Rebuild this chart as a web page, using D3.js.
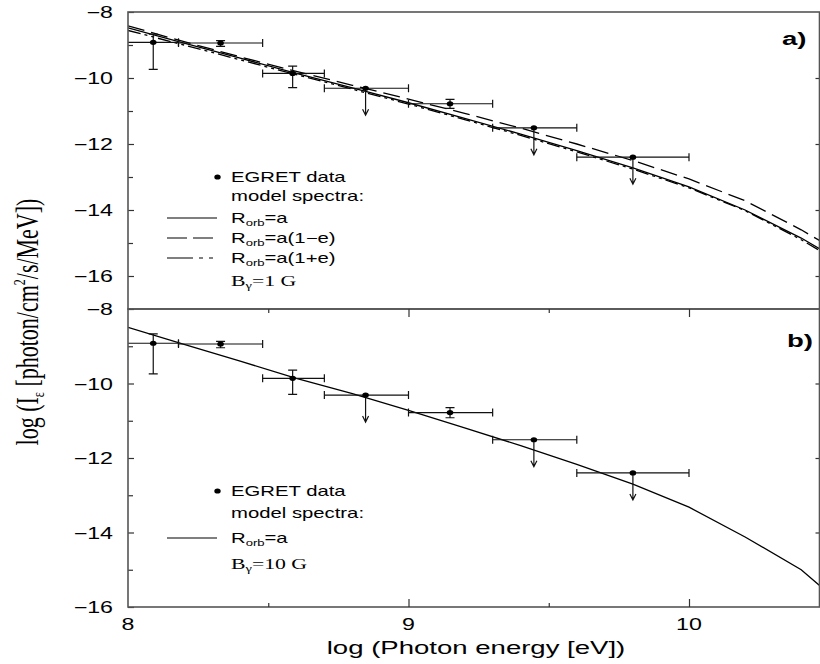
<!DOCTYPE html>
<html>
<head>
<meta charset="utf-8">
<script src="https://cdn.jsdelivr.net/npm/d3@7"></script>
<style>
  body { margin: 0; background: #fff; }
</style>
</head>
<body>
<div id="chart"></div>
<script>
// model spectra (log E [eV] -> log flux)
const energyGrid = [8.0, 8.2, 8.4, 8.6, 8.8, 9.0, 9.2, 9.4, 9.6, 9.8, 10.0, 10.2, 10.4, 10.5];
const solidA = [-8.48, -8.94, -9.4, -9.86, -10.3, -10.75, -11.22, -11.7, -12.2, -12.72, -13.3, -14.0, -14.85, -15.35];
const longDashA = [-8.42, -8.9, -9.36, -9.8, -10.22, -10.64, -11.07, -11.52, -12.0, -12.5, -13.06, -13.72, -14.6, -15.1];
const dashDotA = [-8.56, -9.0, -9.45, -9.9, -10.34, -10.79, -11.26, -11.74, -12.24, -12.76, -13.33, -14.02, -14.9, -15.4];
const solidB = [-8.49, -8.95, -9.4, -9.86, -10.27, -10.72, -11.19, -11.67, -12.17, -12.7, -13.32, -14.12, -15.0, -15.65];

// EGRET points
const egretE = [8.09, 8.33, 8.587, 8.847, 9.148, 9.447, 9.8];
const egretLo = [7.9, 8.18, 8.48, 8.7, 9.0, 9.3, 9.6];
const egretHi = [8.18, 8.48, 8.7, 9.0, 9.3, 9.6, 10.0];
const egretFlux = [-8.92, -8.94, -9.86, -10.31, -10.78, -11.51, -12.4];
const fluxUp = [-8.67, -8.87, -9.64, null, -10.65, null, null];
const fluxDown = [-9.74, -9.04, -10.29, null, -10.92, null, null];
const upperLimit = [false, false, false, true, false, true, true];

const xMajor = [8, 9, 10];
const xMinor = [8.5, 9.5];
const yMajor = [-8, -10, -12, -14, -16];
const yMinorA = [-9, -11, -13, -15];
const yMinorB = [-9, -11, -13, -15];

const width = 820;
const height = 664;
const SX = 1.45; // the original figure is stretched sideways
const left = 128;
const right = 820;
const sans = "'Liberation Sans', Arial, sans-serif";
const serif = "'Liberation Serif', 'Times New Roman', serif";

const x = d3.scaleLinear().domain([8, 8 + (right - left) / 280.5]).range([left, right]);

const panels = [
  {
    id: "a", label: "a)", top: 12, bottom: 309, domain: [-17, -8],
    minor: yMinorA, labelY: 45, labelX: 782,
    curves: [
      { values: solidA, dash: null },
      { values: longDashA, dash: "17,7" },
      { values: dashDotA, dash: "13,4,3,4,3,4" },
    ],
    legend: [
      { kind: "dot", y: 177, text: "EGRET data" },
      { kind: "none", y: 196, text: "model spectra:" },
      { kind: "line", y: 218, dash: null, sub: "" },
      { kind: "line", y: 238, dash: "20,6", sub: "(1\u2212e)" },
      { kind: "line", y: 258, dash: "26,6,4,6,4,6", sub: "(1+e)" },
      { kind: "b", y: 281, field: "1 G" },
    ],
  },
  {
    id: "b", label: "b)", top: 309, bottom: 607, domain: [-16, -8],
    minor: yMinorB, labelY: 347, labelX: 787,
    curves: [{ values: solidB, dash: null }],
    legend: [
      { kind: "dot", y: 491, text: "EGRET data" },
      { kind: "none", y: 513, text: "model spectra:" },
      { kind: "line", y: 538, dash: null, sub: "" },
      { kind: "b", y: 564, field: "10 G" },
    ],
  },
];

const svg = d3.select("#chart").append("svg")
  .attr("width", width).attr("height", height)
  .style("background", "#fff");

const stretched = (sel, px, py, size, family) =>
  sel.append("text")
    .attr("transform", `translate(${px},${py}) scale(${SX},1)`)
    .style("font-family", family)
    .style("font-size", `${size}px`)
    .attr("fill", "#000");

const line = d3.line().x((d) => x(d[0]));

panels.forEach((p) => {
  const y = d3.scaleLinear().domain(p.domain).range([p.bottom, p.top]);
  const g = svg.append("g").attr("class", `panel-${p.id}`);

  g.append("clipPath").attr("id", `clip-${p.id}`)
    .append("rect")
    .attr("x", left).attr("y", p.top)
    .attr("width", right - left).attr("height", p.bottom - p.top);

  const plot = g.append("g").attr("clip-path", `url(#clip-${p.id})`);

  // model curves
  line.y((d) => y(d[1]));
  p.curves.forEach((c) => {
    plot.append("path")
      .datum(energyGrid.map((e, i) => [e, c.values[i]]))
      .attr("d", line)
      .attr("fill", "none")
      .attr("stroke", "#000")
      .attr("stroke-width", 1.3)
      .attr("stroke-dasharray", c.dash);
  });

  // EGRET points
  const pts = egretE.map((e, i) => ({
    e, lo: egretLo[i], hi: egretHi[i], f: egretFlux[i],
    up: fluxUp[i], down: fluxDown[i], ul: upperLimit[i],
  }));
  const pg = plot.selectAll(".pt").data(pts).join("g").attr("class", "pt")
    .attr("stroke", "#111").attr("stroke-width", 1.2).attr("fill", "none");

  pg.append("line")
    .attr("x1", (d) => x(d.lo)).attr("x2", (d) => x(d.hi))
    .attr("y1", (d) => y(d.f)).attr("y2", (d) => y(d.f));
  pg.append("path")
    .attr("d", (d) => `M${x(d.lo)},${y(d.f) - 4}V${y(d.f) + 4}M${x(d.hi)},${y(d.f) - 4}V${y(d.f) + 4}`);

  pg.filter((d) => !d.ul).append("path")
    .attr("d", (d) =>
      `M${x(d.e)},${y(d.up)}V${y(d.down)}` +
      `M${x(d.e) - 4.5},${y(d.up)}h9M${x(d.e) - 4.5},${y(d.down)}h9`);

  pg.filter((d) => d.ul).append("path")
    .attr("d", (d) => {
      const yEnd = y(d.f) + 27;
      return `M${x(d.e)},${y(d.f)}V${yEnd}M${x(d.e) - 3},${yEnd - 6}L${x(d.e)},${yEnd}L${x(d.e) + 3},${yEnd - 6}`;
    });

  pg.append("ellipse")
    .attr("cx", (d) => x(d.e)).attr("cy", (d) => y(d.f))
    .attr("rx", 3.3).attr("ry", 2.6)
    .attr("fill", "#000").attr("stroke", "none");

  // ticks: left (inward), right (inward)
  g.append("g").attr("transform", `translate(${left},0)`)
    .call(d3.axisRight(y).tickValues(yMajor).tickSize(6).tickFormat(""))
    .call((a) => a.select(".domain").remove());
  g.append("g").attr("transform", `translate(${left},0)`)
    .call(d3.axisRight(y).tickValues(p.minor).tickSize(5).tickFormat(""))
    .call((a) => a.select(".domain").remove());
  g.append("g").attr("transform", `translate(${right - 0.5},0)`)
    .call(d3.axisLeft(y).tickValues(yMajor.filter((v) => v > p.domain[0] && v < p.domain[1])).tickSize(4).tickFormat(""))
    .call((a) => a.select(".domain").remove());
  g.selectAll(".tick line").attr("stroke", "#333").attr("stroke-width", 1.2);

  // y tick labels
  yMajor.forEach((v) => {
    stretched(g, 113, y(v) + 6, 16, sans)
      .attr("text-anchor", "end")
      .text(`\u2212${Math.abs(v)}`);
  });

  // frame
  g.append("rect")
    .attr("x", left).attr("y", p.top)
    .attr("width", right - left - 0.5).attr("height", p.bottom - p.top)
    .attr("fill", "none").attr("stroke", "#555").attr("stroke-width", 1.6);

  // panel letter
  stretched(g, p.labelX, p.labelY, 19, sans)
    .style("font-weight", "bold")
    .text(p.label);

  // legend
  const lx0 = 167, lx1 = 217, tx = 231;
  p.legend.forEach((row) => {
    if (row.kind === "dot") {
      g.append("ellipse").attr("cx", 217.5).attr("cy", row.y)
        .attr("rx", 3.2).attr("ry", 2.6).attr("fill", "#000");
    }
    if (row.kind === "dot" || row.kind === "none") {
      stretched(g, tx, row.y + 5, 14, sans).text(row.text);
    }
    if (row.kind === "line") {
      g.append("line").attr("x1", lx0).attr("x2", lx1)
        .attr("y1", row.y).attr("y2", row.y)
        .attr("stroke", "#000").attr("stroke-width", 1.2)
        .attr("stroke-dasharray", row.dash);
      const t = stretched(g, tx, row.y + 5, 14, sans);
      t.append("tspan").text("R");
      t.append("tspan").attr("dy", 3).style("font-size", "9px").text("orb");
      t.append("tspan").attr("dy", -3).text("=a" + row.sub);
    }
    if (row.kind === "b") {
      const t = stretched(g, tx, row.y + 5, 15, serif);
      t.append("tspan").text("B");
      t.append("tspan").attr("dy", 3).style("font-size", "10px").text("\u03b3");
      t.append("tspan").attr("dy", -3).text("=" + row.field);
    }
  });
});

// x ticks: bottom (upward) and top of panel b (downward)
const yBottom = 607;
const yMid = 309;
svg.append("g").attr("transform", `translate(0,${yBottom})`)
  .call(d3.axisTop(x).tickValues(xMajor.filter((v) => v > 8)).tickSize(8).tickFormat(""))
  .call((a) => a.select(".domain").remove());
svg.append("g").attr("transform", `translate(0,${yBottom})`)
  .call(d3.axisTop(x).tickValues(xMinor).tickSize(4).tickFormat(""))
  .call((a) => a.select(".domain").remove());
svg.append("g").attr("transform", `translate(0,${yMid})`)
  .call(d3.axisBottom(x).tickValues(xMajor.filter((v) => v > 8)).tickSize(8).tickFormat(""))
  .call((a) => a.select(".domain").remove());
svg.append("g").attr("transform", `translate(0,${yMid})`)
  .call(d3.axisBottom(x).tickValues(xMinor).tickSize(4).tickFormat(""))
  .call((a) => a.select(".domain").remove());
svg.selectAll(".tick line").attr("stroke", "#333").attr("stroke-width", 1.2);

xMajor.forEach((v) => {
  stretched(svg, x(v), 630, 16, sans).attr("text-anchor", "middle").text(v);
});

stretched(svg, 476, 654, 19, sans)
  .attr("text-anchor", "middle")
  .text("log (Photon energy [eV])");

// y axis title
const yt = svg.append("text")
  .attr("transform", `translate(38,322) rotate(-90) scale(1,${SX})`)
  .attr("text-anchor", "middle")
  .style("font-family", serif)
  .style("font-size", "22px");
yt.append("tspan").text("log (I");
yt.append("tspan").attr("dy", 4).style("font-size", "12px").text("\u03b5");
yt.append("tspan").attr("dy", -4).text(" [photon/cm");
yt.append("tspan").attr("dy", -9).style("font-size", "12px").text("2");
yt.append("tspan").attr("dy", 9).text("/s/MeV])");
</script>
</body>
</html>
